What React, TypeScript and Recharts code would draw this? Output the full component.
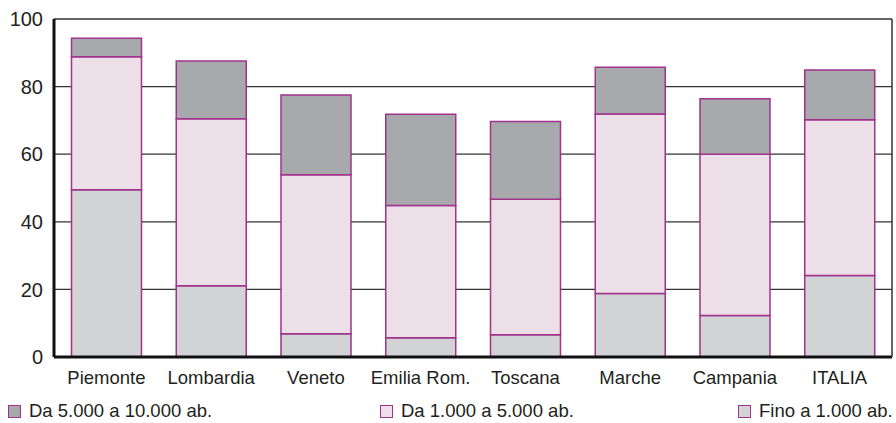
import React from 'react';
import {
  BarChart, Bar, XAxis, YAxis, CartesianGrid, Legend
} from 'recharts';

// Regions and the three population classes (percent)
const regioni = ['Piemonte', 'Lombardia', 'Veneto', 'Emilia Rom.', 'Toscana', 'Marche', 'Campania', 'ITALIA'];
const finoA1000 = [49.5, 21.1, 6.9, 5.7, 6.6, 18.8, 12.3, 24.1];
const da1000a5000 = [39.3, 49.4, 47.0, 39.1, 40.1, 53.1, 47.7, 46.1];
const da5000a10000 = [5.5, 17.1, 23.6, 27.0, 23.0, 13.8, 16.4, 14.7];
const yTicks = [0, 20, 40, 60, 80, 100];

const data = regioni.map((r, i) => ({
  name: r,
  fino: finoA1000[i],
  medio: da1000a5000[i],
  alto: da5000a10000[i],
}));

const FONT = '"Liberation Sans", Arial, sans-serif';
const STROKE = '#a0338c';

const legendItems = [
  { label: 'Da 5.000 a 10.000 ab.', color: '#a8a9ad', left: 8 },
  { label: 'Da 1.000 a 5.000 ab.', color: '#ecdfe8', left: 380 },
  { label: 'Fino a 1.000 ab.', color: '#d1d3d4', left: 738 },
];

const renderLegend = () => (
  <div style={{ position: 'relative', height: 36, width: 896 }}>
    {legendItems.map(item => (
      <div
        key={item.label}
        style={{
          position: 'absolute', left: item.left, top: 14, height: 20,
          display: 'flex', alignItems: 'center', fontFamily: FONT,
          fontSize: 18.5, color: '#231f20', whiteSpace: 'nowrap'
        }}
      >
        <span style={{
          display: 'inline-block', width: 11, height: 11, background: item.color,
          border: `1.5px solid ${STROKE}`, marginRight: 8
        }} />
        {item.label}
      </div>
    ))}
  </div>
);

const App: React.FC = () => {
  return (
    <div style={{ width: 896, height: 423, background: '#fff' }}>
      <style>{`body { margin: 0; }`}</style>
      <BarChart
        width={896}
        height={423}
        data={data}
        margin={{ top: 19, right: 3, left: 0, bottom: 0 }}
        barCategoryGap="16.7%"
      >
        <CartesianGrid vertical={false} stroke="#333" strokeWidth={1.3} />
        <XAxis
          dataKey="name"
          tickLine={false}
          tickSize={0}
          tickMargin={14}
          height={30}
          axisLine={{ stroke: '#111', strokeWidth: 3 }}
          tick={{ fill: '#231f20', fontSize: 18.5, fontFamily: FONT }}
          interval={0}
        />
        <YAxis
          domain={[0, 100]}
          ticks={yTicks}
          width={54}
          tickLine={false}
          tickSize={0}
          tickMargin={11}
          axisLine={{ stroke: '#111', strokeWidth: 3 }}
          tick={{ fill: '#231f20', fontSize: 20, fontFamily: FONT }}
        />
        <YAxis
          yAxisId="r"
          orientation="right"
          domain={[0, 100]}
          width={1}
          tick={false}
          tickLine={false}
          axisLine={{ stroke: '#333', strokeWidth: 1.5 }}
        />
        <Legend verticalAlign="bottom" height={36} content={renderLegend} wrapperStyle={{ left: 0, bottom: 0, width: 896 }} />
        <Bar dataKey="fino" stackId="a" fill="#d1d3d4" stroke={STROKE} strokeWidth={1.5} isAnimationActive={false} />
        <Bar dataKey="medio" stackId="a" fill="#ecdfe8" stroke={STROKE} strokeWidth={1.5} isAnimationActive={false} />
        <Bar dataKey="alto" stackId="a" fill="#a8a9ad" stroke={STROKE} strokeWidth={1.5} isAnimationActive={false} />
      </BarChart>
    </div>
  );
};

export default App;
